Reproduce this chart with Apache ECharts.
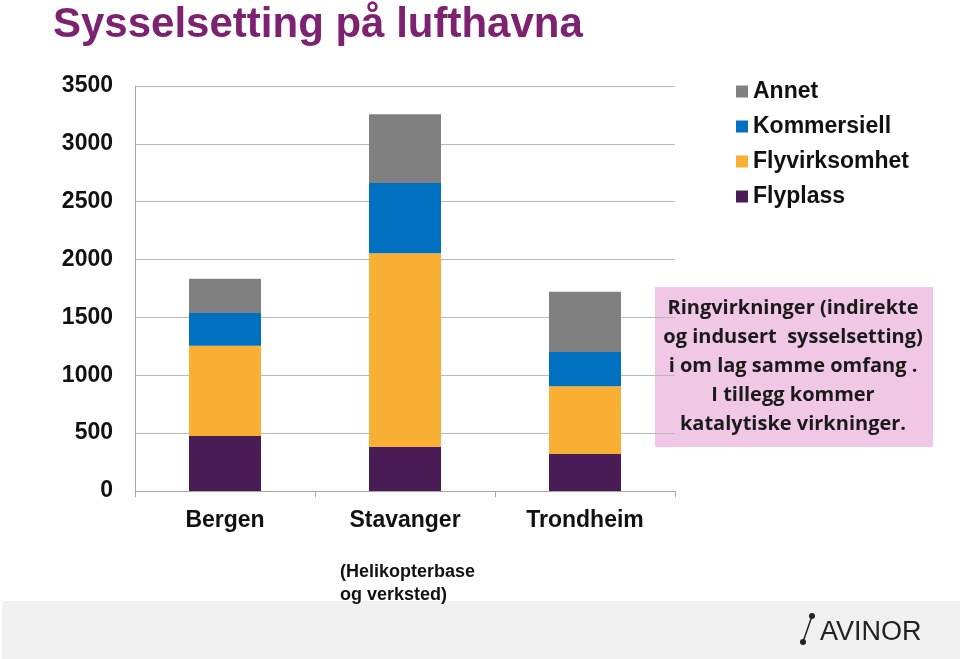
<!DOCTYPE html>
<html><head><meta charset="utf-8">
<script src="https://cdn.jsdelivr.net/npm/echarts@6/dist/echarts.min.js"></script>
<style>html,body{margin:0;padding:0;background:#fff}#c{width:960px;height:659px}</style>
</head><body><div id="c"></div>
<script>
const categories = ['Bergen', 'Stavanger', 'Trondheim'];
const flyplass = [475, 383, 320];
const flyvirksomhet = [781, 1671, 585];
const kommersiell = [282, 608, 296];
const annet = [297, 593, 521];
const yTicks = [0, 500, 1000, 1500, 2000, 2500, 3000, 3500];
const legendOrder = ['Annet', 'Kommersiell', 'Flyvirksomhet', 'Flyplass'];
const noteLines = ['Ringvirkninger (indirekte', 'og indusert  sysselsetting)', 'i om lag samme omfang .', 'I tillegg kommer', 'katalytiske virkninger.'];

const chart = echarts.init(document.getElementById('c'), null, {renderer: 'canvas'});
const font = '"Liberation Sans", Arial, sans-serif';
const mk = (name, data, color) => ({
  name, type: 'bar', stack: 's', data, barWidth: '40%',
  itemStyle: {color}, emphasis: {disabled: true}
});
chart.setOption({
  animation: false,
  title: {
    text: 'Sysselsetting på lufthavna', left: 48, top: -1,
    textStyle: {fontFamily: font, fontSize: 42, fontWeight: 'bold', color: '#7D2271'}
  },
  legend: {
    orient: 'vertical', left: 731, top: 75, itemWidth: 12, itemHeight: 12, itemGap: 12,
    data: legendOrder.map(n => ({name: n, icon: 'rect'})),
    textStyle: {fontFamily: font, fontSize: 23, fontWeight: 'bold', color: '#111', lineHeight: 23}
  },
  grid: {left: 135, right: 285, top: 86, bottom: 168, containLabel: false},
  xAxis: {
    type: 'category', data: categories,
    axisLine: {lineStyle: {color: '#A6A6A6', width: 1}},
    axisTick: {show: true, length: 6, lineStyle: {color: '#A6A6A6'}},
    axisLabel: {fontFamily: font, fontSize: 23, fontWeight: 'bold', color: '#111', margin: 18}
  },
  yAxis: {
    type: 'value', min: yTicks[0], max: yTicks[yTicks.length - 1], interval: 500,
    axisLine: {show: true, lineStyle: {color: '#A6A6A6', width: 1}},
    axisTick: {show: false},
    splitLine: {lineStyle: {color: '#B8B8B8', width: 1}},
    axisLabel: {fontFamily: font, fontSize: 23, fontWeight: 'bold', color: '#111', margin: 22,
      formatter: v => String(v)}
  },
  series: [
    mk('Flyplass', flyplass, '#4A1C55'),
    mk('Flyvirksomhet', flyvirksomhet, '#F9AE34'),
    mk('Kommersiell', kommersiell, '#0070C0'),
    mk('Annet', annet, '#808080')
  ],
  graphic: [
    {type: 'rect', shape: {x: 2, y: 601, width: 958, height: 58}, style: {fill: '#F0F0F0'}, z: -10},
    {type: 'rect', shape: {x: 655, y: 287, width: 278, height: 160}, style: {fill: '#F0C8E6'}},
    {type: 'text', x: 793, y: 294, style: {
      text: noteLines.join('\n'), align: 'center', verticalAlign: 'top',
      font: 'bold 20px "Open Sans", sans-serif', lineHeight: 29, fill: '#1a1a1a'
    }},
    {type: 'text', x: 340, y: 561, style: {
      text: '(Helikopterbase\nog verksted)', font: 'bold 18px ' + font, lineHeight: 23, fill: '#111'
    }},
    {type: 'text', x: 820, y: 619, style: {
      text: 'AVINOR', font: '27px "Liberation Sans", Arial, sans-serif', fill: '#222'
    }},
    {type: 'line', shape: {x1: 812, y1: 616, x2: 803, y2: 642}, style: {stroke: '#222', lineWidth: 1.5}},
    {type: 'circle', shape: {cx: 812, cy: 616, r: 3}, style: {fill: '#222'}},
    {type: 'circle', shape: {cx: 803, cy: 642, r: 3}, style: {fill: '#222'}}
  ]
});
</script></body></html>
